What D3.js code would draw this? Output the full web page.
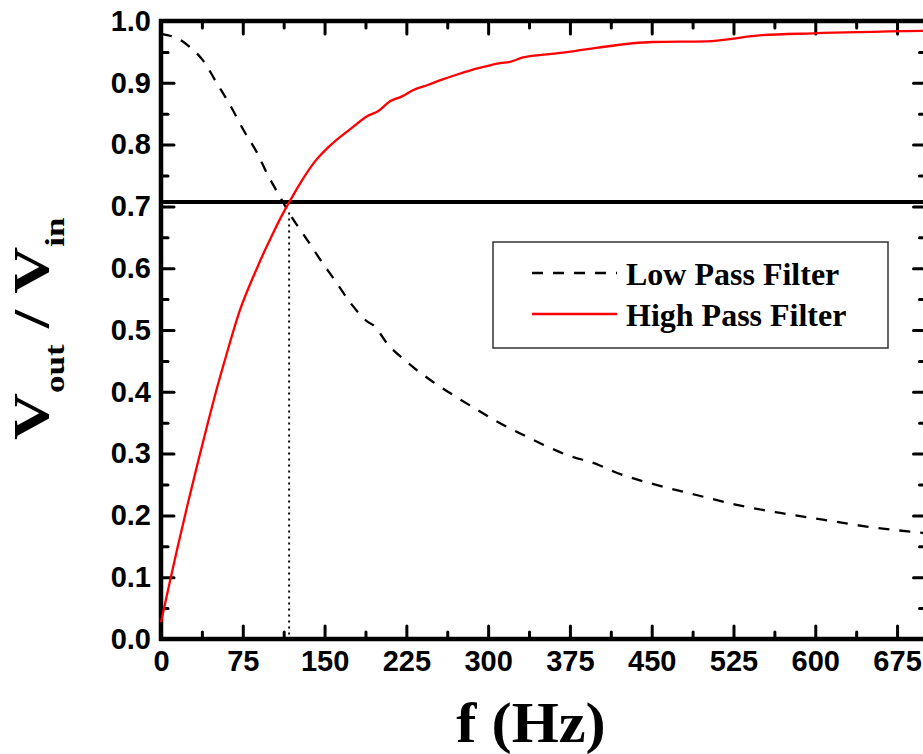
<!DOCTYPE html>
<html><head><meta charset="utf-8">
<script src="https://cdn.jsdelivr.net/npm/d3@7/dist/d3.min.js"></script>
<style>
html,body{margin:0;padding:0;background:#fff;}
svg{display:block;}
</style></head>
<body>
<script>
// ---- data ----
const highPassFreq = [0, 8, 25, 34, 43, 51, 60, 72, 88, 95, 101, 109, 117, 127.5, 140, 158, 175, 189, 199, 210, 221, 231, 244, 259, 271, 292, 311, 320, 332, 354, 378, 401, 451, 500, 551, 598, 702];
const highPassVal  = [0.027, 0.092, 0.222, 0.287, 0.350, 0.404, 0.460, 0.530, 0.600, 0.628, 0.650, 0.679, 0.705, 0.737, 0.770, 0.803, 0.827, 0.846, 0.854, 0.870, 0.878, 0.888, 0.896, 0.906, 0.913, 0.924, 0.932, 0.934, 0.941, 0.946, 0.951, 0.957, 0.966, 0.967, 0.977, 0.980, 0.984];
const lowPassFreq = [0, 19, 27, 39, 51, 63, 75.5, 88, 97, 109, 118, 134, 146, 160, 175, 189, 196, 207, 225, 247, 265, 287, 308, 329, 351, 372, 401, 415, 455, 491, 528, 568, 607, 647, 702];
const lowPassVal  = [0.979, 0.968, 0.957, 0.935, 0.900, 0.865, 0.824, 0.787, 0.754, 0.716, 0.688, 0.646, 0.614, 0.579, 0.541, 0.514, 0.506, 0.479, 0.449, 0.419, 0.398, 0.374, 0.352, 0.333, 0.314, 0.298, 0.282, 0.271, 0.249, 0.233, 0.217, 0.204, 0.193, 0.182, 0.171];
const cutoffValue = 0.707;
const cutoffFreq = 117.5;
const xTickValues = [0, 75, 150, 225, 300, 375, 450, 525, 600, 675];
const xMinorValues = [37.5, 112.5, 187.5, 262.5, 337.5, 412.5, 487.5, 562.5, 637.5];
const yTickValues = [0, 0.1, 0.2, 0.3, 0.4, 0.5, 0.6, 0.7, 0.8, 0.9, 1.0];
const yMinorValues = [0.05, 0.15, 0.25, 0.35, 0.45, 0.55, 0.65, 0.75, 0.85, 0.95];
const seriesNames = ["Low Pass Filter", "High Pass Filter"];

const W = 923, H = 754;
const svg = d3.select("body").append("svg").attr("width", W).attr("height", H);

const x = d3.scaleLinear().domain([0, 702]).range([161, 926.5]);
const y = d3.scaleLinear().domain([0, 1]).range([639, 21]);

const sans = "'Liberation Sans', Arial, sans-serif";
const serif = "'Liberation Serif', 'Times New Roman', serif";

function styleAxis(g) {
  g.select(".domain").remove();
  g.selectAll(".tick line").attr("stroke", "#000").attr("stroke-width", 3).attr("stroke-linecap", "round");
  g.selectAll(".tick text").attr("fill", "#000").attr("font-family", sans).attr("font-weight", "bold").attr("font-size", 29);
}
// bottom
svg.append("g").attr("transform", `translate(0,${y(0)})`)
  .call(d3.axisBottom(x).tickValues(xTickValues).tickSize(-13).tickSizeOuter(0).tickPadding(11).tickFormat(d3.format("d")))
  .call(styleAxis);
svg.append("g").attr("transform", `translate(0,${y(0)})`)
  .call(d3.axisBottom(x).tickValues(xMinorValues).tickSize(-7).tickSizeOuter(0).tickFormat(""))
  .call(styleAxis);
// top
svg.append("g").attr("transform", `translate(0,${y(1)})`)
  .call(d3.axisTop(x).tickValues(xTickValues).tickSize(-13).tickSizeOuter(0).tickFormat(""))
  .call(styleAxis);
svg.append("g").attr("transform", `translate(0,${y(1)})`)
  .call(d3.axisTop(x).tickValues(xMinorValues).tickSize(-7).tickSizeOuter(0).tickFormat(""))
  .call(styleAxis);
// left
svg.append("g").attr("transform", `translate(${x(0)},0)`)
  .call(d3.axisLeft(y).tickValues(yTickValues).tickSize(-13).tickSizeOuter(0).tickPadding(10).tickFormat(d3.format(".1f")))
  .call(styleAxis);
svg.append("g").attr("transform", `translate(${x(0)},0)`)
  .call(d3.axisLeft(y).tickValues(yMinorValues).tickSize(-7).tickSizeOuter(0).tickFormat(""))
  .call(styleAxis);
// right
svg.append("g").attr("transform", `translate(${x(702)},0)`)
  .call(d3.axisRight(y).tickValues(yTickValues).tickSize(-13).tickSizeOuter(0).tickFormat(""))
  .call(styleAxis);
svg.append("g").attr("transform", `translate(${x(702)},0)`)
  .call(d3.axisRight(y).tickValues(yMinorValues).tickSize(-7).tickSizeOuter(0).tickFormat(""))
  .call(styleAxis);

// frame
svg.append("rect").attr("x", x(0)).attr("y", y(1)).attr("width", x(702) - x(0)).attr("height", y(0) - y(1))
  .attr("fill", "none").attr("stroke", "#000").attr("stroke-width", 4.5);

// cutoff lines
svg.append("line").attr("x1", x(0)).attr("x2", x(702)).attr("y1", y(cutoffValue)).attr("y2", y(cutoffValue))
  .attr("stroke", "#000").attr("stroke-width", 4);
svg.append("line").attr("x1", x(cutoffFreq)).attr("x2", x(cutoffFreq)).attr("y1", y(0.69)).attr("y2", y(0))
  .attr("stroke", "#000").attr("stroke-width", 2).attr("stroke-dasharray", "2,4");

// curves
const line = d3.line().curve(d3.curveMonotoneX).x(d => x(d[0])).y(d => y(d[1]));
const lowData = lowPassFreq.map((f, i) => [f, lowPassVal[i]]);
const highData = highPassFreq.map((f, i) => [f, highPassVal[i]]);
svg.append("path").datum(lowData).attr("d", line).attr("fill", "none").attr("stroke", "#000")
  .attr("stroke-width", 2.3).attr("stroke-dasharray", "11,10");
svg.append("path").datum(highData).attr("d", line).attr("fill", "none").attr("stroke", "#ff0000")
  .attr("stroke-width", 2.3);

// legend
const lg = svg.append("g");
lg.append("rect").attr("x", 493).attr("y", 242).attr("width", 395).attr("height", 106)
  .attr("fill", "#fff").attr("stroke", "#333").attr("stroke-width", 1.5);
lg.append("line").attr("x1", 532).attr("x2", 617).attr("y1", 273).attr("y2", 273)
  .attr("stroke", "#000").attr("stroke-width", 2.3).attr("stroke-dasharray", "11,10");
lg.append("line").attr("x1", 532).attr("x2", 617).attr("y1", 314).attr("y2", 314)
  .attr("stroke", "#ff0000").attr("stroke-width", 2.3);
lg.selectAll("text.leg").data(seriesNames).enter().append("text")
  .attr("x", 626).attr("y", (d, i) => 285 + i * 41)
  .attr("font-family", serif).attr("font-weight", "bold").attr("font-size", 32).text(d => d);

// axis titles
svg.append("text").attr("transform", "translate(531,742) scale(1.08,1)").attr("text-anchor", "middle")
  .attr("font-family", serif).attr("font-weight", "bold").attr("font-size", 56).text("f (Hz)");

const yt = svg.append("text").attr("transform", "translate(48,440) rotate(-90) scale(1.3,1)").attr("text-anchor", "start")
  .attr("font-family", serif).attr("font-weight", "bold").attr("font-size", 50);
yt.append("tspan").text("V");
yt.append("tspan").attr("font-size", 27).attr("dy", 16).text("out");
yt.append("tspan").attr("dy", -16).text(" / ");
yt.append("tspan").text("V");
yt.append("tspan").attr("font-size", 27).attr("dy", 16).text("in");
</script>
</body></html>
